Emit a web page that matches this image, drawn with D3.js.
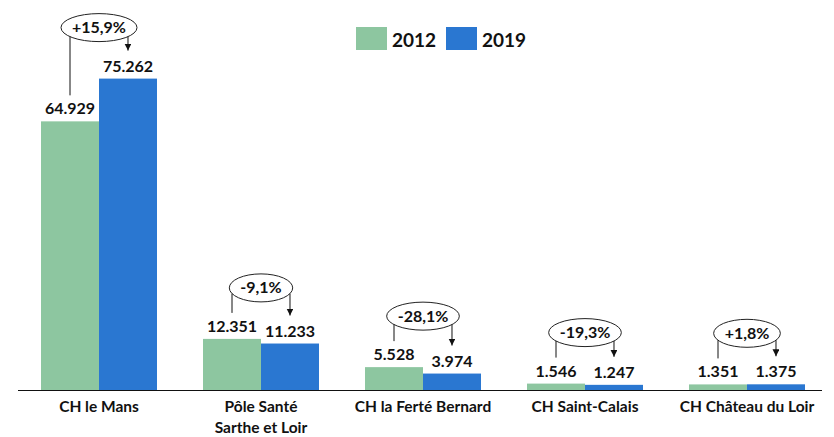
<!DOCTYPE html>
<html>
<head>
<meta charset="utf-8">
<script src="https://cdn.jsdelivr.net/npm/d3@7"></script>
<style>
    body { margin: 0; background: #fff; }
    #chart { width: 834px; height: 437px; }
    text { font-family: Lato, "Open Sans", sans-serif; font-weight: 700; fill: #111; }
</style>
</head>
<body>
<div id="chart"></div>
<script>
// data
let categories = ["CH le Mans", "Pôle Santé\nSarthe et Loir", "CH la Ferté Bernard", "CH Saint-Calais", "CH Château du Loir"];
let years = ["2012", "2019"];
let values2012 = [64929, 12351, 5528, 1546, 1351];
let values2019 = [75262, 11233, 3974, 1247, 1375];

class BarPlot {
    constructor(parentElement) {
        this.parentElement = parentElement;
        this.colors = {"2012": "#8DC6A0", "2019": "#2A77D1"};
        this.initVis();
    }

    initVis() {
        let vis = this;

        vis.width = 834;
        vis.height = 437;

        vis.svg = d3.select("#" + vis.parentElement).append("svg")
            .attr("width", vis.width)
            .attr("height", vis.height);

        // scales
        vis.x = d3.scaleBand()
            .domain(categories)
            .range([18, 828])
            .paddingInner(0.284)
            .paddingOuter(0.142);
        vis.xSub = d3.scaleBand()
            .domain(years)
            .range([0, vis.x.bandwidth()]);
        vis.y = d3.scaleLinear()
            .domain([0, 80000])
            .range([390, 59]);

        vis.fmt = d3.formatLocale({decimal: ",", thousands: ".", grouping: [3], currency: ["", ""]});

        // arrow head
        vis.svg.append("defs").append("marker")
            .attr("id", "arrow")
            .attr("viewBox", "0 0 8 8")
            .attr("refX", 8)
            .attr("refY", 4)
            .attr("markerWidth", 7)
            .attr("markerHeight", 7)
            .attr("markerUnits", "userSpaceOnUse")
            .attr("orient", "auto")
            .append("path")
            .attr("d", "M0,0L8,4L0,8Z")
            .attr("fill", "#111");

        vis.wrangleData();
    }

    wrangleData() {
        let vis = this;

        vis.displayData = categories.map((c, i) => ({
            cat: c,
            v2012: values2012[i],
            v2019: values2019[i],
            change: (values2019[i] - values2012[i]) / values2012[i] * 100
        }));

        vis.updateVis();
    }

    updateVis() {
        let vis = this;

        let groups = vis.svg.selectAll(".cat")
            .data(vis.displayData)
            .enter()
            .append("g")
            .attr("class", "cat")
            .attr("transform", d => `translate(${vis.x(d.cat)},0)`);

        // bars
        years.forEach(yr => {
            groups.append("rect")
                .attr("x", vis.xSub(yr))
                .attr("y", d => vis.y(d["v" + yr]))
                .attr("width", vis.xSub.bandwidth())
                .attr("height", d => vis.y(0) - vis.y(d["v" + yr]))
                .attr("fill", vis.colors[yr]);

            groups.append("text")
                .attr("x", vis.xSub(yr) + vis.xSub.bandwidth() / 2)
                .attr("y", d => vis.y(d["v" + yr]) - 7)
                .attr("text-anchor", "middle")
                .attr("font-size", 16)
                .text(d => vis.fmt.format(",")(d["v" + yr]));
        });

        // baseline
        vis.svg.append("line")
            .attr("x1", vis.x.range()[0])
            .attr("x2", vis.x.range()[1] - 6)
            .attr("y1", vis.y(0) + 0.5)
            .attr("y2", vis.y(0) + 0.5)
            .attr("stroke", "#111")
            .attr("stroke-width", 1);

        // category labels
        groups.append("text")
            .attr("text-anchor", "middle")
            .attr("font-size", 15.5)
            .attr("y", 412)
            .selectAll("tspan")
            .data(d => d.cat.split("\n"))
            .enter()
            .append("tspan")
            .attr("x", vis.x.bandwidth() / 2)
            .attr("dy", (d, i) => i === 0 ? 0 : 21)
            .text(d => d);

        // change annotations
        let cx = vis.x.bandwidth() / 2,
            xg = vis.xSub("2012") + vis.xSub.bandwidth() / 2,
            xb = vis.xSub("2019") + vis.xSub.bandwidth() / 2,
            ry = 14;

        groups.each(function(d) {
            let g = d3.select(this);
            let cy = vis.y(Math.max(d.v2012, d.v2019)) - 51;
            let label = (d.change >= 0 ? "+" : "-") + vis.fmt.format(".1f")(Math.abs(d.change)) + "%";

            let txt = g.append("text")
                .attr("x", cx)
                .attr("y", cy + 5.5)
                .attr("text-anchor", "middle")
                .attr("font-size", 16)
                .text(label);
            let rx = txt.node().getComputedTextLength() / 2 + 11;

            g.insert("ellipse", "text")
                .attr("cx", cx)
                .attr("cy", cy)
                .attr("rx", rx)
                .attr("ry", ry)
                .attr("fill", "none")
                .attr("stroke", "#222")
                .attr("stroke-width", 1);

            // y on ellipse edge for a given x
            let edge = x => {
                let t = (x - cx) / rx;
                return Math.abs(t) >= 1 ? cy : cy + ry * Math.sqrt(1 - t * t);
            };

            g.append("line")
                .attr("x1", xg).attr("x2", xg)
                .attr("y1", edge(xg))
                .attr("y2", vis.y(d.v2012) - 26)
                .attr("stroke", "#111");

            g.append("line")
                .attr("x1", xb).attr("x2", xb)
                .attr("y1", edge(xb))
                .attr("y2", vis.y(d.v2019) - 28)
                .attr("stroke", "#111")
                .attr("marker-end", "url(#arrow)");
        });

        // legend
        let legend = vis.svg.append("g")
            .attr("transform", "translate(356,27)");

        let items = legend.selectAll(".legend-item")
            .data(years)
            .enter()
            .append("g")
            .attr("class", "legend-item")
            .attr("transform", (d, i) => `translate(${i * 90},0)`);

        items.append("rect")
            .attr("width", 31)
            .attr("height", 23)
            .attr("fill", d => vis.colors[d]);

        items.append("text")
            .attr("x", 36)
            .attr("y", 20)
            .attr("font-size", 19)
            .text(d => d);
    }
}

new BarPlot("chart");
</script>
</body>
</html>
